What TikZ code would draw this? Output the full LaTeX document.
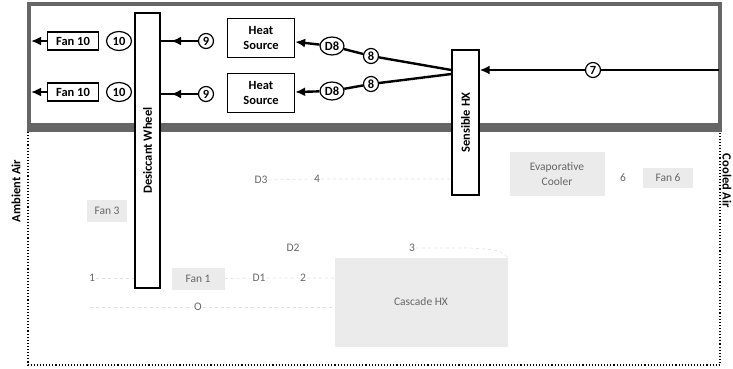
\documentclass[tikz,border=0pt]{standalone}
\usepackage{fontspec}
\setmainfont{Carlito}
\usepackage{tikz}
\usetikzlibrary{arrows.meta, positioning, calc, shapes.geometric, decorations.markings}

\begin{document}
\begin{tikzpicture}[x=1pt, y=-1pt,
      font=\fontsize{12.5}{15}\selectfont\bfseries,
      unit/.style={draw, line width=1.3pt, fill=white, inner sep=1pt, align=center},
      state/.style={draw, ellipse, line width=1.2pt, fill=white, inner sep=0.4pt, minimum width=15, minimum height=15},
      flow/.style={line width=2.4pt, -{Latex[length=10pt,width=9pt]}},
      pipe/.style={line width=2.4pt},
      midflow/.style={line width=2.4pt, postaction={decorate},
        decoration={markings, mark=at position #1 with {\arrow{Latex[length=10pt,width=9pt]}}}},
      faded/.style={text=black!60, font=\fontsize{11.5}{15}\selectfont, inner sep=1pt, align=center},
      fadedbox/.style={faded, fill=black!8},
      faint/.style={black!12, dashed, line width=0.6pt},
    ]
    \useasboundingbox (0,0) rectangle (733,368);
    % frames
    \draw[black!60, line width=3.5pt] (29,128) -- (29,4) -- (720,4) -- (720,128);
    \fill[black!60] (27,123) rectangle (722,132);
    \draw[dotted, line width=1.1pt] (28,132) -- (28,365) -- (720,365) -- (720,132);
    \node[rotate=90] (amb) at (16,191) {Ambient Air};
    \node[rotate=-90] (cool) at (727,181) {Cooled Air};
    \coordinate (outl) at (31,0);
    \coordinate (cin) at (719,70);

    % faded lower loop
    \node[fadedbox, minimum width=40, minimum height=22] (fan3) at (107,211) {Fan 3};
    \node[faded] (n1) at (92,278) {1};
    \node[fadedbox, minimum width=53, minimum height=22] (fan1) at (198,279) {Fan 1};
    \node[faded] (d1) at (259,278) {D1};
    \node[faded] (n2) at (303,278) {2};
    \node[faded] (d2) at (293,248) {D2};
    \node[faded] (n3) at (412,248) {3};
    \node[faded] (n0) at (198,307) {O};
    \node[faded] (d3) at (261,180) {D3};
    \node[faded] (n4) at (317,179) {4};
    \node[fadedbox, minimum width=95, minimum height=44] (evap) at (557,174) {Evaporative\\Cooler};
    \node[faded] (n6) at (623,178) {6};
    \node[fadedbox, minimum width=50, minimum height=20] (fan6) at (668,178) {Fan 6};
    \node[fadedbox, minimum width=173, minimum height=89] (casc) at (421,302) {Cascade HX};
    \coordinate (l0) at (90,307);
    \draw[faint] (d3) -- (n4) -- (450,179);
    \draw[faint] (n1) -- (135,278);
    \draw[faint] (fan1) -- (d1) -- (n2) -- (casc.west |- n2);
    \draw[faint] (l0) -- (n0) -- (casc.west |- n0);
    \draw[faint] (n3) -- (470,248) .. controls (500,250) .. (casc.north east);

    % wheel and heat exchanger
    \node[unit, minimum width=25, minimum height=275] (wheel) at (147.5,150.5) {\rotatebox{90}{Desiccant Wheel}};
    \node[unit, minimum width=27, minimum height=145] (hx) at (465.5,122.5) {\rotatebox{90}{Sensible HX}};

    % regeneration branches
    \node[unit, minimum width=51, minimum height=18] (fana) at (73,41) {Fan 10};
    \node[unit, minimum width=51, minimum height=18] (fanb) at (73,92) {Fan 10};
    \node[state, minimum width=25, minimum height=19] (n10a) at (119,41) {10};
    \node[state, minimum width=25, minimum height=19] (n10b) at (119,92) {10};
    \node[state] (n9a) at (206,41) {9};
    \node[state] (n9b) at (206,94) {9};
    \node[unit, minimum width=67, minimum height=39] (hsa) at (261,38) {Heat\\Source};
    \node[unit, minimum width=67, minimum height=39] (hsb) at (261,93) {Heat\\Source};
    \node[state, minimum width=24, minimum height=18] (d8a) at (332,46) {D8};
    \node[state, minimum width=24, minimum height=18] (d8b) at (332,91) {D8};
    \node[state] (n8a) at (371,56) {8};
    \node[state] (n8b) at (371,84) {8};
    \node[state] (n7) at (593,70) {7};

    \draw[flow] (fana) -- (fana -| outl);
    \draw[flow] (fanb) -- (fanb -| outl);
    \draw[midflow=0.72] (n9a) -- (n9a -| wheel.east);
    \draw[midflow=0.72] (n9b) -- (n9b -| wheel.east);
    \draw[flow] (d8a) -- (hsa);
    \draw[flow] (d8b) -- (hsb);
    \draw[pipe] (n8a) -- (d8a);
    \draw[pipe] (n8b) -- (d8b);
    \draw[pipe] (n8a) -- (hx.west |- n7);
    \draw[pipe] (n8b) -- ($(hx.west |- n7)+(0,4)$);
    \draw[pipe] (cin) -- (n7);
    \draw[flow] (n7) -- (hx.east |- n7);
  \end{tikzpicture}
\end{document}
